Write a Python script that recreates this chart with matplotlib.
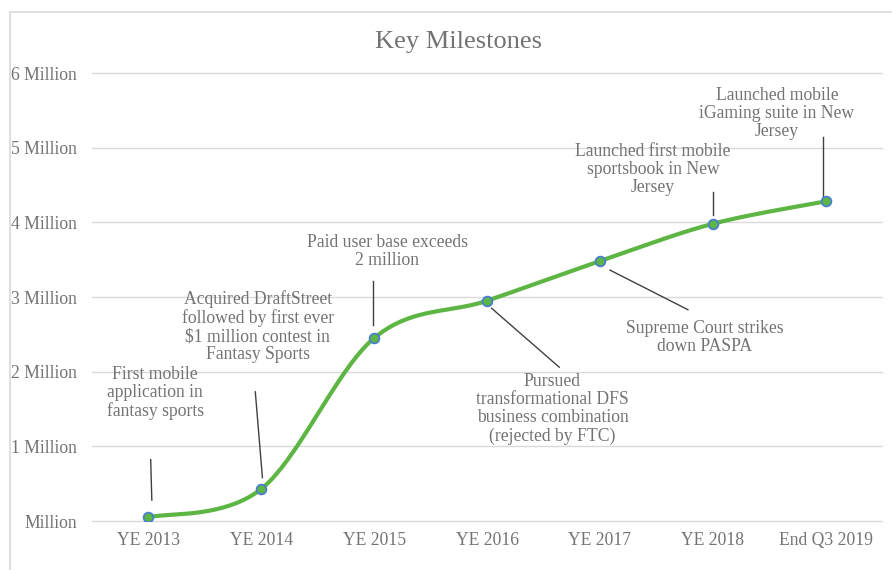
import numpy as np
import matplotlib.pyplot as plt
from matplotlib.patches import Rectangle

plt.rcParams['font.family'] = ['Liberation Serif', 'DejaVu Serif']

labels = ['YE 2013', 'YE 2014', 'YE 2015', 'YE 2016', 'YE 2017', 'YE 2018', 'End Q3 2019']
users = [0.05, 0.43, 2.45, 2.95, 3.48, 3.98, 4.28]
ytick_labels = ['Million', '1 Million', '2 Million', '3 Million', '4 Million', '5 Million', '6 Million']

notes = [
    'First mobile\napplication in\nfantasy sports',
    'Acquired DraftStreet\nfollowed by first ever\n$1 million contest in\nFantasy Sports',
    'Paid user base exceeds\n2 million',
    'Pursued\ntransformational DFS\nbusiness combination\n(rejected by FTC)',
    'Supreme Court strikes\ndown PASPA',
    'Launched first mobile\nsportsbook in New\nJersey',
    'Launched mobile\niGaming suite in New\nJersey',
]
note_xy = [(0.06, 1.71), (0.97, 2.60), (2.115, 3.61), (3.58, 1.50), (4.93, 2.46), (4.47, 4.71), (5.57, 5.46)]
leaders = [((0.02, 0.82), (0.03, 0.28)),
           ((0.947, 1.73), (1.01, 0.58)),
           ((1.99, 3.21), (1.99, 2.62)),
           ((3.04, 2.85), (3.64, 2.06)),
           ((4.09, 3.36), (4.78, 2.83)),
           ((5.0, 4.40), (5.0, 4.10)),
           ((5.98, 5.14), (5.98, 4.34))]


def smooth(xs, ys, ratio, n=40):
    # bezier smoothing like spreadsheet "smoothed line", done in pixel-like space
    p = np.column_stack([xs, np.asarray(ys) * ratio])
    out = []
    for i in range(len(p) - 1):
        p0 = p[i - 1] if i > 0 else p[i]
        p3 = p[i + 2] if i + 2 < len(p) else p[i + 1]
        c1 = p[i] + (p[i + 1] - p0) / 6
        c2 = p[i + 1] - (p3 - p[i]) / 6
        t = np.linspace(0, 1, n)[:, None]
        seg = ((1 - t) ** 3 * p[i] + 3 * (1 - t) ** 2 * t * c1
               + 3 * (1 - t) * t ** 2 * c2 + t ** 3 * p[i + 1])
        out.append(seg)
    out = np.vstack(out)
    return out[:, 0], out[:, 1] / ratio


fig = plt.figure(figsize=(8.92, 5.70), dpi=100)
ax = fig.add_axes([92 / 892, 1 - 521 / 570, 790 / 892, 448 / 570])

fig.patches.append(Rectangle((10 / 892, -0.1), 1.2, 1.1 - 12 / 570,
                             transform=fig.transFigure, fill=False,
                             edgecolor='#d9d9d9', linewidth=1.2))

x = np.arange(len(labels))
ax.set_xlim(-0.5, len(labels) - 0.5)
ax.set_ylim(0, 6)

sx, sy = smooth(x, users, 74.7 / 113)
ax.plot(sx, sy, color='#5db543', linewidth=3, solid_capstyle='round', zorder=3)
ax.plot(x, users, 'o', markersize=7, markerfacecolor='#5db543',
        markeredgecolor='#4a7fd0', markeredgewidth=1.3, zorder=4)

for txt, (tx, ty) in zip(notes, note_xy):
    ax.text(tx, ty, txt, ha='center', va='center', fontsize=12.7,
            color='#737373', linespacing=1.08)
for (a, b) in leaders:
    ax.plot([a[0], b[0]], [a[1], b[1]], color='#404040', linewidth=1, zorder=2)

ax.set_yticks(range(7))
ax.set_yticklabels(ytick_labels)
ax.set_xticks(x)
ax.set_xticklabels(labels)
ax.tick_params(length=0, labelsize=12.7, labelcolor='#737373')
ax.tick_params(axis='y', pad=11)
ax.tick_params(axis='x', pad=8)
ax.grid(axis='y', color='#d9d9d9', linewidth=1, clip_on=False)
for gl in ax.get_ygridlines():
    gl.set_clip_on(False)
ax.set_axisbelow(True)
for s in ax.spines.values():
    s.set_visible(False)

fig.text(458 / 892, 1 - 42 / 570, 'Key Milestones', ha='center', va='center',
         fontsize=19, color='#737373')

fig.savefig('out.png', dpi=100)
